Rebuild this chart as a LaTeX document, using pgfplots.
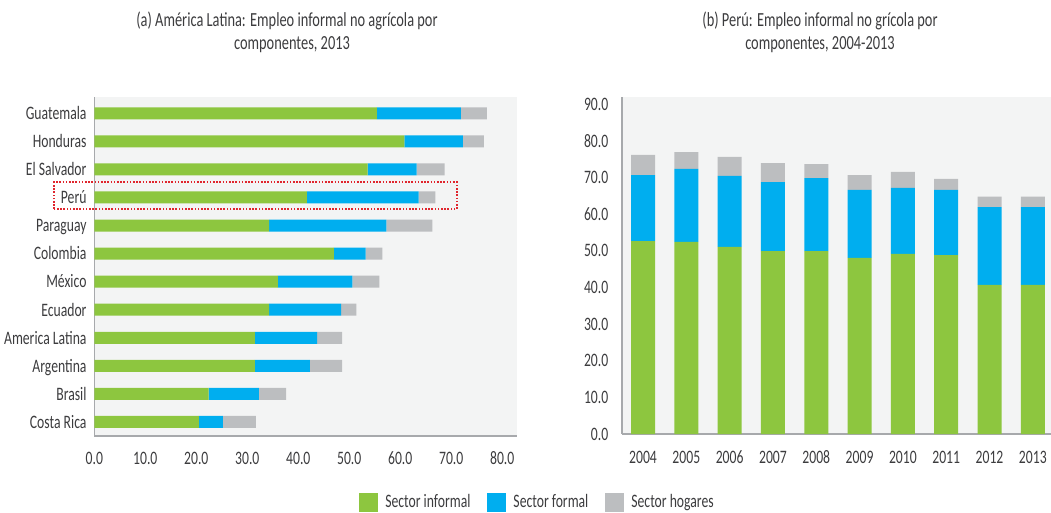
\documentclass[border=0pt]{standalone}
\usepackage{pgfplots}
\pgfplotsset{compat=1.18}
\usepackage{pgfplotstable}
\usepackage{fontspec}
\setmainfont{Carlito}[FakeStretch=0.72]
\definecolor{cinf}{HTML}{8DC63F}
\definecolor{cfor}{HTML}{00AEEF}
\definecolor{chog}{HTML}{BCBEC0}
\definecolor{cbg}{HTML}{F3F4F4}
\definecolor{caxis}{HTML}{A7A9AC}
\definecolor{ctext}{HTML}{3C3C3E}
\definecolor{cred}{HTML}{E0252D}

% left panel: idx 11 = Guatemala (top) ... 0 = Costa Rica (bottom)
\pgfplotstableread{
idx informal formal hogares
11 55.4 16.5 5.1
10 60.8 11.5 4.1
9  53.6 9.6  5.5
8  41.7 21.9 3.3
7  34.3 23.0 9.0
6  47.0 6.2  3.3
5  36.0 14.6 5.3
4  34.3 14.1 3.0
3  31.5 12.2 4.9
2  31.5 10.8 6.3
1  22.4 9.9  5.3
0  20.5 4.7  6.5
}\tablea

% right panel: Peru 2004-2013
\pgfplotstableread{
idx informal formal hogares
0 52.6 18.0 5.5
1 52.4 19.9 4.6
2 51.0 19.4 5.2
3 49.9 18.8 5.2
4 49.9 19.9 3.8
5 48.0 18.6 4.0
6 49.1 18.0 4.4
7 48.8 17.8 3.0
8 40.7 21.2 2.8
9 40.7 21.2 2.8
}\tableb

\pgfplotsset{
  panel/.style={
    scale only axis,
    axis background/.style={fill=cbg},
    axis x line*=bottom, axis y line*=left,
    axis line style={caxis, line width=1.3pt, -},
    major tick length=0pt,
    tick label style={font=\fontsize{19}{23}\selectfont, color=ctext},
    clip=false,
  },
  sq/.style={legend image code/.code={\fill[##1] (0pt,-3.7pt) rectangle (19pt,15.3pt);}},
}

\begin{document}
\begin{tikzpicture}
\path[use as bounding box] (0pt,0pt) rectangle (1051pt,512pt);

% titles
\node[anchor=base, color=ctext, font=\fontsize{20}{24}\selectfont] at (287pt,485.5pt) {(a) América Latina: Empleo informal no agrícola por};
\node[anchor=base, color=ctext, font=\fontsize{20}{24}\selectfont] at (292pt,462.5pt) {componentes, 2013};
\node[anchor=base, color=ctext, font=\fontsize{20}{24}\selectfont] at (820pt,485.5pt) {(b) Perú: Empleo informal no grícola por};
\node[anchor=base, color=ctext, font=\fontsize{20}{24}\selectfont] at (820pt,462.5pt) {componentes, 2004-2013};

% left panel
\begin{axis}[panel,
  at={(94.3pt,76pt)}, anchor=south west, width=422.7pt, height=339.3pt,
  xbar stacked, bar width=12pt,
  xmin=0, xmax=82.9, ymin=-0.5, ymax=11.59,
  xtick={0,10,...,80},
  xticklabel={\pgfmathprintnumber[fixed,fixed zerofill,precision=1,assume math mode=true]{\tick}},
  xticklabel style={anchor=base, inner sep=0pt, yshift=-28.3pt},
  ytick={0,...,11},
  yticklabels={Costa Rica, Brasil, Argentina, America Latina, Ecuador, México, Colombia, Paraguay, Perú, El Salvador, Honduras, Guatemala},
  yticklabel style={anchor=base east, inner sep=0pt, xshift=-7.6pt, yshift=-6.3pt},
]
\addplot[fill=cinf, draw=none] table[x=informal, y=idx] {\tablea};
\addplot[fill=cfor, draw=none] table[x=formal, y=idx] {\tablea};
\addplot[fill=chog, draw=none] table[x=hogares, y=idx] {\tablea};
\draw[cred, line width=2pt, dash pattern=on 1.6pt off 1.6pt] (axis cs:-7.9,7.59) rectangle (axis cs:71.1,8.54);
\end{axis}

% right panel
\begin{axis}[panel,
  at={(622pt,78pt)}, anchor=south west, width=429pt, height=337pt,
  ybar stacked, bar width=24pt,
  xmin=-0.485, xmax=9.42, ymin=0, ymax=91.9,
  xtick={0,...,9},
  xticklabels={2004,2005,2006,2007,2008,2009,2010,2011,2012,2013},
  xticklabel style={anchor=base, inner sep=0pt, yshift=-29.3pt},
  ytick={0,10,...,90},
  yticklabel={\pgfmathprintnumber[fixed,fixed zerofill,precision=1,assume math mode=true]{\tick}},
  yticklabel style={anchor=east, inner sep=0pt, xshift=-13.5pt},
  legend columns=3,
  legend cell align=left,
  legend style={at={(-0.1993,-0.2018)}, anchor=center, draw=none, fill=none,
    inner sep=0pt, outer sep=0pt,
    font=\fontsize{19}{23}\selectfont, text=ctext,
    nodes={inner sep=0pt},
    cells={anchor=base west},
    /tikz/every odd column/.append style={column sep=7pt},
    /tikz/every even column/.append style={column sep=17pt}},
]
\addplot[fill=cinf, draw=none, sq] table[x=idx, y=informal] {\tableb};
\addlegendentry{Sector informal}
\addplot[fill=cfor, draw=none, sq] table[x=idx, y=formal] {\tableb};
\addlegendentry{Sector formal}
\addplot[fill=chog, draw=none, sq] table[x=idx, y=hogares] {\tableb};
\addlegendentry{Sector hogares}
\end{axis}
\end{tikzpicture}
\end{document}
